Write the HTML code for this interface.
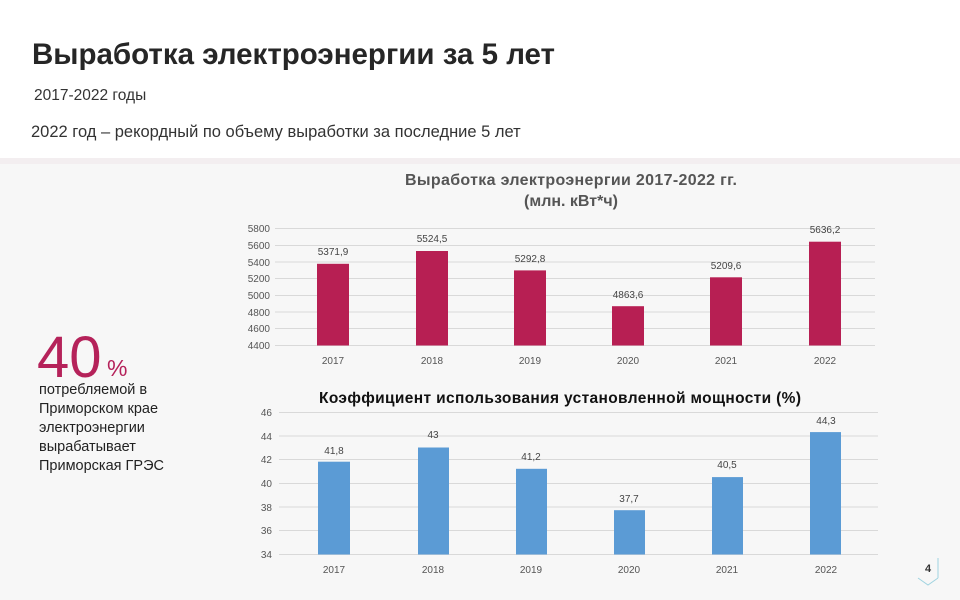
<!DOCTYPE html>
<html><head><meta charset="utf-8"><style>
body{margin:0;width:960px;height:600px;overflow:hidden;background:#f7f7f7;font-family:"Liberation Sans",sans-serif;}
svg{display:block}
</style></head><body>
<svg width="960" height="600" xmlns="http://www.w3.org/2000/svg" font-family="Liberation Sans, sans-serif">
<rect x="0" y="0" width="960" height="600" fill="#f7f7f7"/>
<rect x="0" y="0" width="960" height="158" fill="#ffffff"/>
<rect x="0" y="158" width="960" height="6" fill="#f3eef0"/>
<text x="32" y="64" font-size="29.5" font-weight="bold" fill="#262626">Выработка электроэнергии за 5 лет</text>
<text x="34" y="100" font-size="15.5" fill="#333">2017-2022 годы</text>
<text x="31" y="137" font-size="16.5" fill="#333">2022 год – рекордный по объему выработки за последние  5 лет</text>

<text x="37" y="377" font-size="58" fill="#b5225a">40</text>
<text x="107" y="376" font-size="23" fill="#b5225a">%</text>
<g font-size="14.5" fill="#222">
<text x="39" y="394">потребляемой  в</text>
<text x="39" y="413">Приморском крае</text>
<text x="39" y="432">электроэнергии</text>
<text x="39" y="451">вырабатывает</text>
<text x="39" y="470">Приморская ГРЭС</text>
</g>

<!-- top chart -->
<text x="571" y="185" font-size="16" font-weight="bold" fill="#555" text-anchor="middle" textLength="332">Выработка электроэнергии 2017-2022 гг.</text>
<text x="571" y="206" font-size="16" font-weight="bold" fill="#555" text-anchor="middle">(млн. кВт*ч)</text>
<g stroke="#d9d9d9" stroke-width="1">
<line x1="275" x2="875" y1="228.5" y2="228.5"/><line x1="275" x2="875" y1="245.5" y2="245.5"/>
<line x1="275" x2="875" y1="262" y2="262"/><line x1="275" x2="875" y1="278.5" y2="278.5"/>
<line x1="275" x2="875" y1="295.5" y2="295.5"/><line x1="275" x2="875" y1="312" y2="312"/>
<line x1="275" x2="875" y1="328.5" y2="328.5"/><line x1="275" x2="875" y1="345.5" y2="345.5"/>
</g>
<g font-size="10" fill="#555" text-anchor="end">
<text x="270" y="232">5800</text><text x="270" y="249">5600</text><text x="270" y="266">5400</text>
<text x="270" y="282">5200</text><text x="270" y="299">5000</text><text x="270" y="316">4800</text>
<text x="270" y="332">4600</text><text x="270" y="349">4400</text>
</g>
<g fill="#b71f53">
<rect x="317" y="263.8" width="32" height="81.7"/>
<rect x="416" y="251" width="32" height="94.5"/>
<rect x="514" y="270.4" width="32" height="75.1"/>
<rect x="612" y="306.2" width="32" height="39.3"/>
<rect x="710" y="277.3" width="32" height="68.2"/>
<rect x="809" y="241.7" width="32" height="103.8"/>
</g>
<g font-size="10" fill="#444" text-anchor="middle">
<text x="333" y="255">5371,9</text><text x="432" y="242">5524,5</text><text x="530" y="262">5292,8</text>
<text x="628" y="298">4863,6</text><text x="726" y="269">5209,6</text><text x="825" y="233">5636,2</text>
</g>
<g font-size="10" fill="#555" text-anchor="middle">
<text x="333" y="364">2017</text><text x="432" y="364">2018</text><text x="530" y="364">2019</text>
<text x="628" y="364">2020</text><text x="726" y="364">2021</text><text x="825" y="364">2022</text>
</g>

<!-- bottom chart -->
<text x="560" y="403" font-size="15.5" font-weight="bold" fill="#111" text-anchor="middle" textLength="482">Коэффициент использования установленной мощности (%)</text>
<g stroke="#d9d9d9" stroke-width="1">
<line x1="279" x2="878" y1="412.5" y2="412.5"/><line x1="279" x2="878" y1="436" y2="436"/>
<line x1="279" x2="878" y1="459.5" y2="459.5"/><line x1="279" x2="878" y1="483.5" y2="483.5"/>
<line x1="279" x2="878" y1="507" y2="507"/><line x1="279" x2="878" y1="530.5" y2="530.5"/>
<line x1="279" x2="878" y1="554.5" y2="554.5"/>
</g>
<g font-size="10" fill="#555" text-anchor="end">
<text x="272" y="416">46</text><text x="272" y="440">44</text><text x="272" y="463">42</text>
<text x="272" y="487">40</text><text x="272" y="511">38</text><text x="272" y="534">36</text><text x="272" y="558">34</text>
</g>
<g fill="#5b9bd5">
<rect x="318" y="461.7" width="32" height="92.8"/>
<rect x="418" y="447.5" width="31" height="107"/>
<rect x="516" y="468.8" width="31" height="85.7"/>
<rect x="614" y="510.2" width="31" height="44.3"/>
<rect x="712" y="477.1" width="31" height="77.4"/>
<rect x="810" y="432.1" width="31" height="122.4"/>
</g>
<g font-size="10" fill="#444" text-anchor="middle">
<text x="334" y="454">41,8</text><text x="433" y="438">43</text><text x="531" y="460">41,2</text>
<text x="629" y="502">37,7</text><text x="727" y="468">40,5</text><text x="826" y="424">44,3</text>
</g>
<g font-size="10" fill="#555" text-anchor="middle">
<text x="334" y="573">2017</text><text x="433" y="573">2018</text><text x="531" y="573">2019</text>
<text x="629" y="573">2020</text><text x="727" y="573">2021</text><text x="826" y="573">2022</text>
</g>

<text x="928" y="572" font-size="11" font-weight="bold" fill="#333" text-anchor="middle">4</text>
<polyline points="918,578 928,585 938,578" fill="none" stroke="#9fd3e0" stroke-width="1"/>
<line x1="938" y1="558" x2="938" y2="578" stroke="#9fd3e0" stroke-width="1"/>
</svg>
</body></html>
